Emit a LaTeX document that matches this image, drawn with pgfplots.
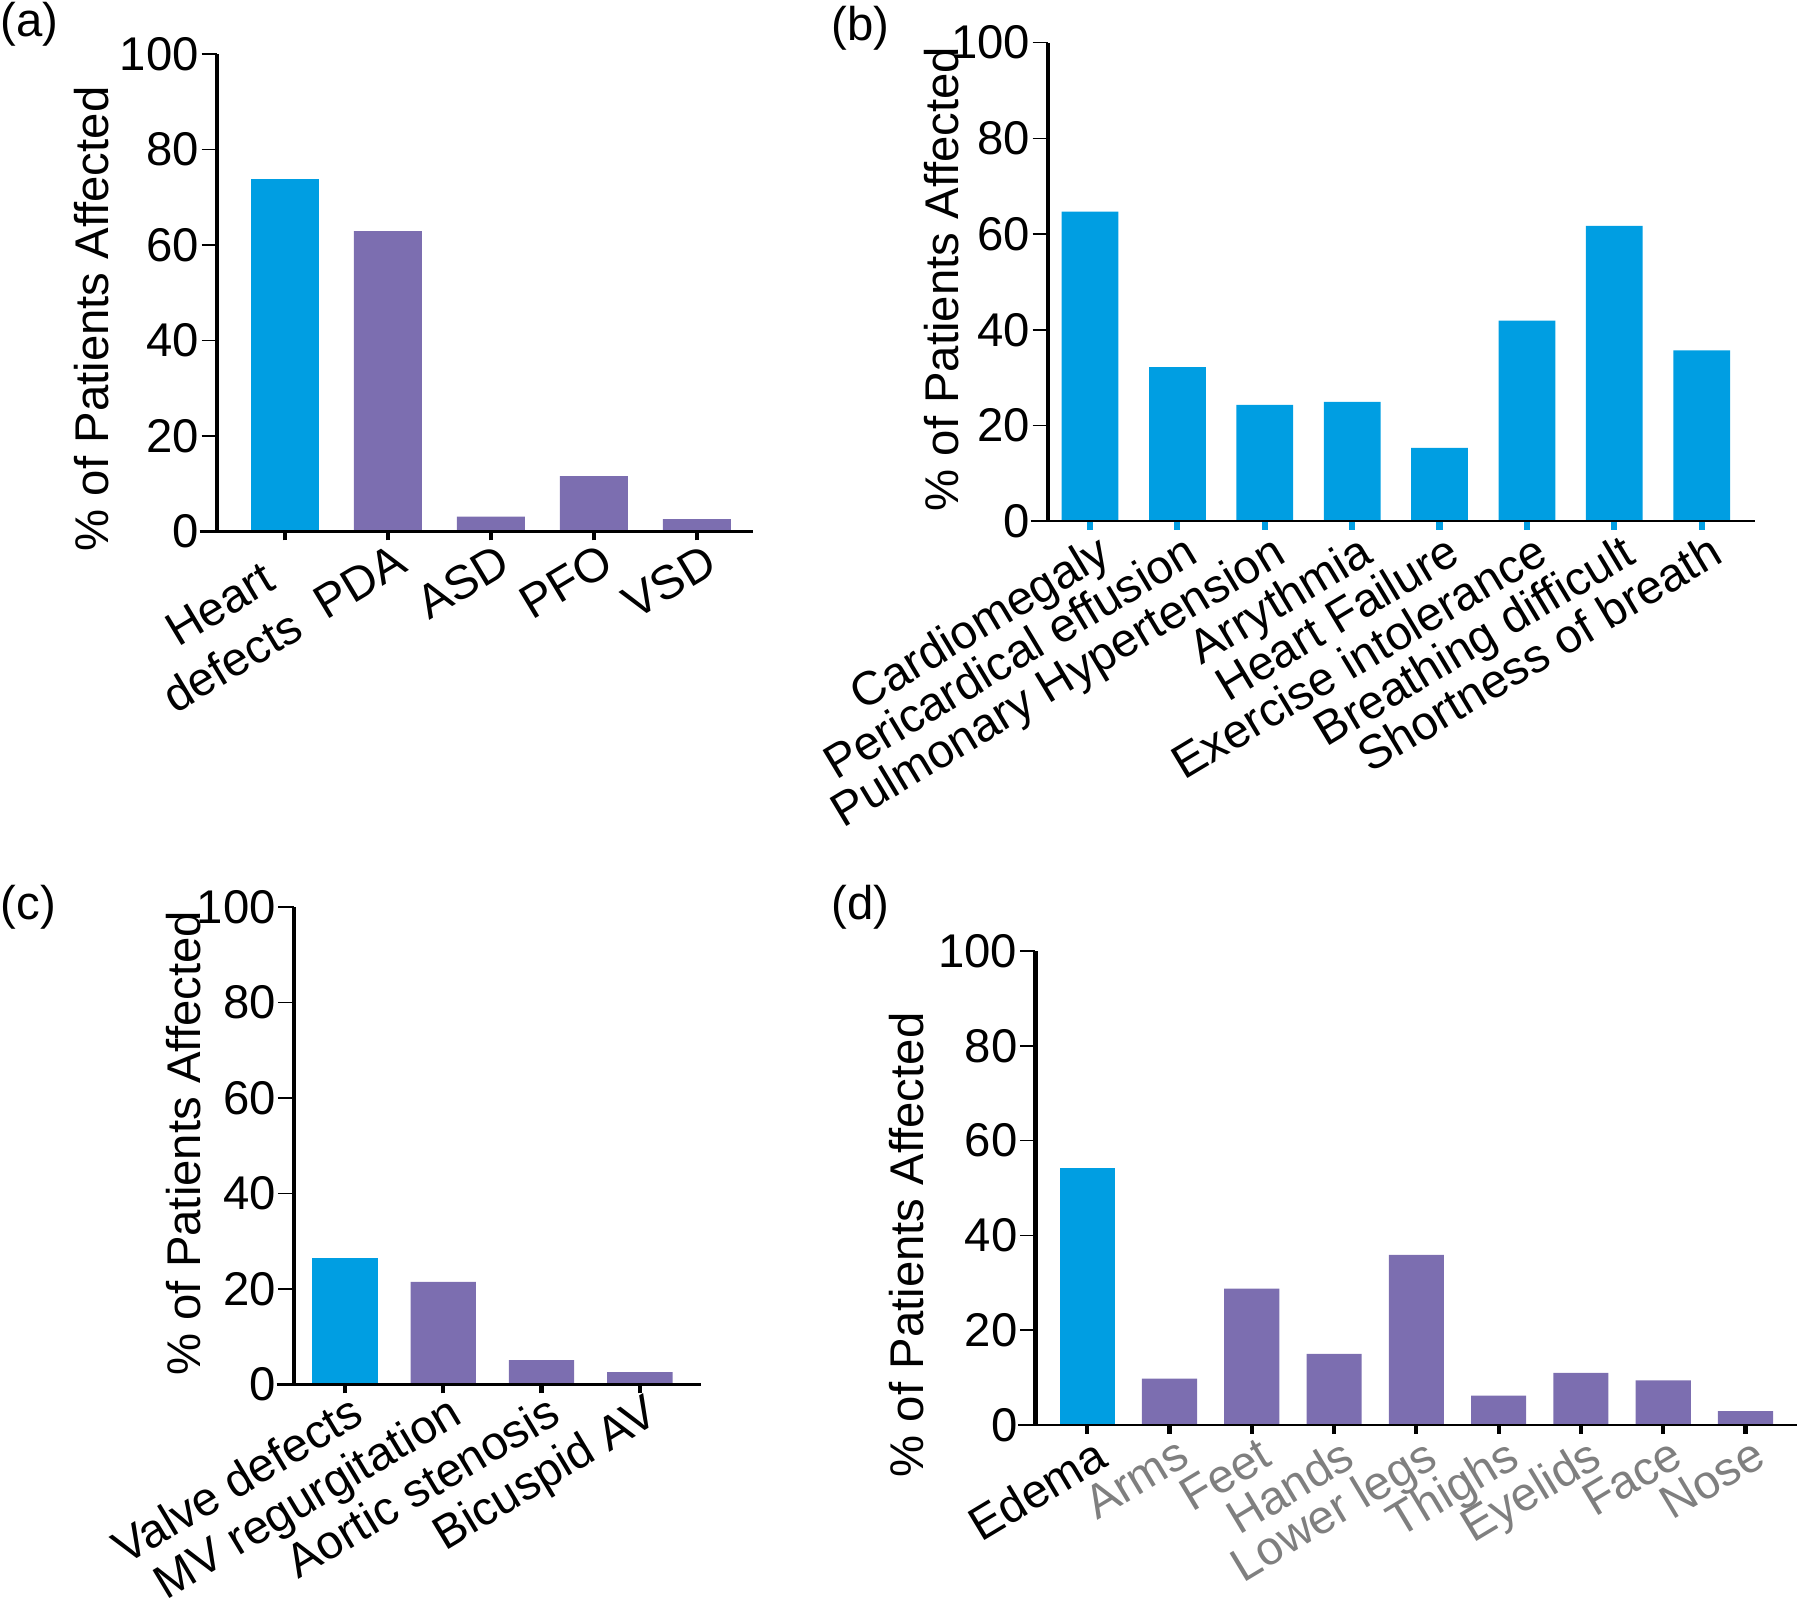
\documentclass[border=0pt]{standalone}
\usepackage{fontspec}
\setmainfont{Liberation Sans}
\usepackage{pgfplots}
\pgfplotsset{compat=1.18}

\definecolor{cyanbar}{HTML}{009EE2}
\definecolor{purplebar}{HTML}{7C6EB0}
\definecolor{lbl}{HTML}{7F7F7F}

% common look of the four panels
\pgfplotsset{
  panel/.style={
    scale only axis,
    anchor=south west,
    axis lines=left,
    separate axis lines,
    axis line style={-},
    every outer x axis line/.append style={line width=0.6pt, shorten <=-4.5pt},
    every outer y axis line/.append style={line width=1.2pt},
    axis on top,
    clip=false,
    ymin=0, ymax=100,
    ytick={0,20,...,100},
    tick align=outside,
    major tick length=4pt,
    minor tick length=2.3pt,
    major y tick style={line width=0.4pt, black},
    major x tick style={draw=none},
    minor x tick style={line width=1.1pt, black},
    ybar, bar shift=0pt,
    /pgf/number format/assume math mode=true,
    yticklabel style={inner sep=0.5pt},
    xticklabel style={rotate=31, anchor=north east, inner sep=1pt, yshift=1.5pt, xshift=3pt},
    ylabel={\% of Patients Affected},
  }
}

\begin{document}
{\fontsize{12.3}{14.5}\selectfont
\begin{tikzpicture}
\useasboundingbox (0,0) rectangle (468pt,416.3pt);

% (a)
\begin{axis}[panel, at={(56.4pt,278.1pt)},
    width=139.4pt, height=124.2pt,
    xmin=-0.66, xmax=4.545, bar width=0.66,
    xtick={0,...,4}, minor xtick={0,...,4},
    xticklabels={{Heart\hspace*{9pt}\\defects\hspace*{9pt}},PDA,ASD,PFO,VSD},
    xticklabel style={align=right},
    y label style={at={(axis description cs:-0.233,0.445)}, anchor=center}]
\addplot[fill=cyanbar, draw=none] coordinates {(0,73.8)};
\addplot[fill=purplebar, draw=none] coordinates {(1,62.9) (2,3.1) (3,11.6) (4,2.6)};
\end{axis}

% (b)
\begin{axis}[panel, at={(272.5pt,280.8pt)},
    width=183.8pt, height=124.4pt,
    xmin=-0.48, xmax=7.61, bar width=0.65,
    xtick={0,...,7}, minor xtick={0,...,7},
    minor x tick style={line width=1.6pt, cyanbar},
    xticklabels={Cardiomegaly,Pericardical effusion,Pulmonary Hypertension,Arrythmia,Heart Failure,Exercise intolerance,Breathing difficult,Shortness of breath},
    y label style={at={(axis description cs:-0.151,0.506)}, anchor=center}]
\addplot[fill=cyanbar, draw=none] coordinates {(0,64.7) (1,32.2) (2,24.3) (3,24.9) (4,15.3) (5,41.9) (6,61.7) (7,35.7)};
\end{axis}

% (c)
\begin{axis}[panel, at={(76.4pt,56.3pt)},
    width=105.8pt, height=124.2pt,
    xmin=-0.52, xmax=3.62, bar width=0.665,
    xtick={0,...,3}, minor xtick={0,...,3},
    xticklabels={Valve defects,MV regurgitation,Aortic stenosis,Bicuspid AV},
    xticklabel style={yshift=1pt},
    y label style={at={(axis description cs:-0.27,0.505)}, anchor=center}]
\addplot[fill=cyanbar, draw=none] coordinates {(0,26.5)};
\addplot[fill=purplebar, draw=none] coordinates {(1,21.5) (2,5.1) (3,2.6)};
\end{axis}

% (d)
\begin{axis}[panel, at={(269.2pt,45.8pt)},
    width=198.1pt, height=123.2pt,
    xmin=-0.63, xmax=8.63, bar width=0.67,
    xtick={0,...,8}, minor xtick={0,...,8},
    xticklabels={\textcolor{black}{Edema},Arms,Feet,Hands,Lower legs,Thighs,Eyelids,Face,Nose},
    xticklabel style={text=lbl},
    y label style={at={(axis description cs:-0.169,0.38)}, anchor=center}]
\addplot[fill=cyanbar, draw=none] coordinates {(0,54.3)};
\addplot[fill=purplebar, draw=none] coordinates {(1,9.8) (2,28.8) (3,15.0) (4,35.9) (5,6.2) (6,11.0) (7,9.4) (8,2.9)};
\end{axis}

\node[anchor=north west, inner sep=0pt] at (0pt,416pt) {(a)};
\node[anchor=north west, inner sep=0pt] at (216pt,415pt) {(b)};
\node[anchor=north west, inner sep=0pt] at (0pt,186.4pt) {(c)};
\node[anchor=north west, inner sep=0pt] at (216pt,186.4pt) {(d)};
\end{tikzpicture}}
\end{document}
